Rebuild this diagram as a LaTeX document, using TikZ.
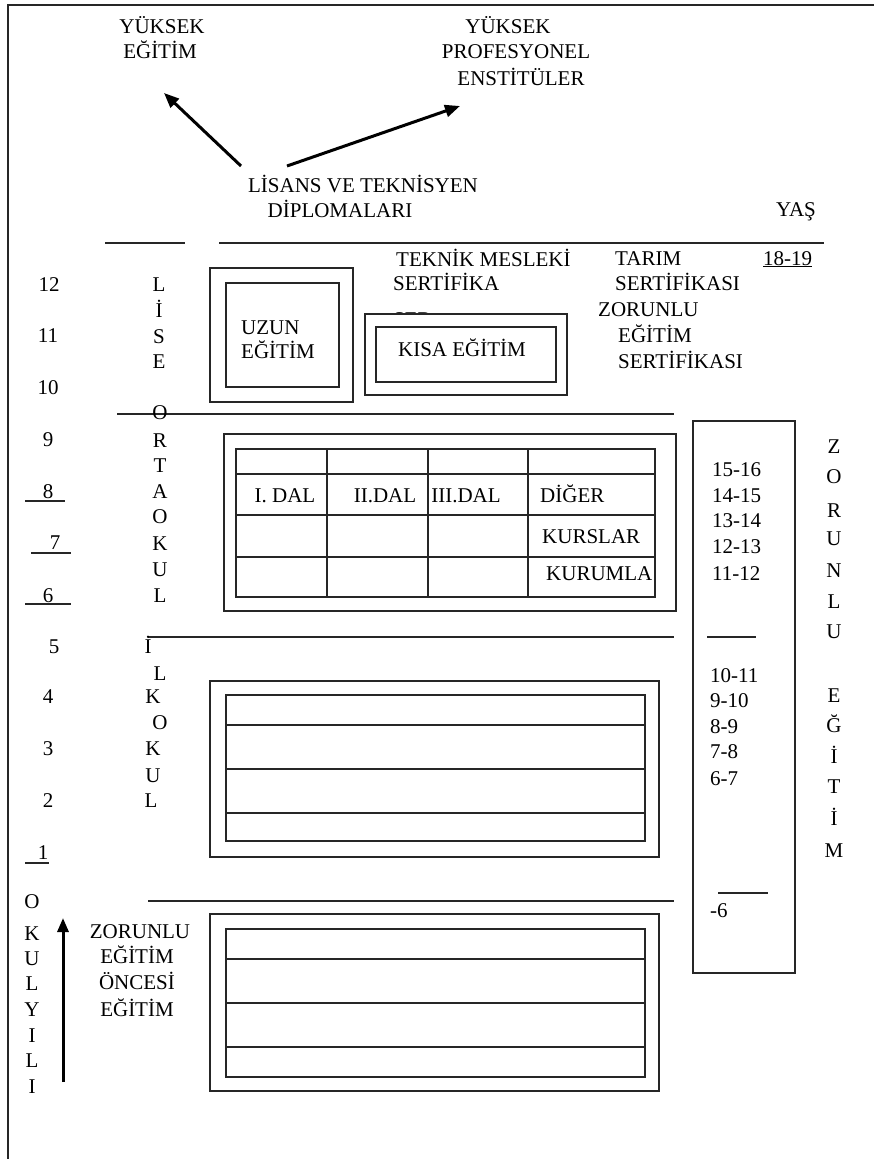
\documentclass[tikz,border=0pt]{standalone}
\usepackage{fontspec}
\setmainfont{Liberation Serif}
\usetikzlibrary{arrows.meta}
\begin{document}
\begin{tikzpicture}[x=1pt,y=-1pt,
  every node/.style={inner sep=0pt, font=\fontsize{21}{25}\selectfont, text=black},
  lab/.style={anchor=base},
  labl/.style={anchor=base west},
  ln/.style={line width=2pt, draw=black!85},
  bx/.style={line width=2pt, draw=black!85, fill=white},
  arr/.style={line width=3pt, draw=black, -{Triangle[length=15pt,width=12pt]}}]
\useasboundingbox (0,0) rectangle (874,1159);
\fill[white] (0,0) rectangle (874,1159);
% frame
\draw[line width=2.5pt, draw=black!85] (8,1159) -- (8,5) -- (874,5);

% top labels
\node[lab] (yuk1) at (162,33) {YÜKSEK};
\node[lab] (egt1) at (160,58) {EĞİTİM};
\node[lab] (yuk2) at (508,33) {YÜKSEK};
\node[lab] (prof) at (516,58) {PROFESYONEL};
\node[lab] (enst) at (521,85) {ENSTİTÜLER};
\node[lab] (lis) at (363,192) {LİSANS VE TEKNİSYEN};
\node[lab] (dip) at (340,217) {DİPLOMALARI};
\node[lab] (yas) at (796,216) {YAŞ};
\coordinate (a1s) at (241,166);
\coordinate (a1e) at (164,93);
\coordinate (a2s) at (287,166);
\coordinate (a2e) at (460,106);
\draw[arr] (a1s) -- (a1e);
\draw[arr] (a2s) -- (a2e);

% top rules
\draw[ln] (105,243) -- (185,243);
\draw[ln] (219,243) -- (824,243);

% lise row texts
\node[labl] (tek) at (396,266) {TEKNİK MESLEKİ};
\node[labl] (sertA) at (393,290) {SERTİFİKA};
\node[labl] (ser) at (393,326) {SER};
\node[labl] (tarim) at (615,265) {TARIM};
\node[labl] (sertB) at (615,290) {SERTİFİKASI};
\node[labl] (zor) at (598,316) {ZORUNLU};
\node[labl] (egtZ) at (618,342) {EĞİTİM};
\node[labl] (sertC) at (618,368) {SERTİFİKASI};
\node[labl] (age1819) at (763,265) {\underline{18-19}};

% uzun / kisa boxes
\draw[bx] (210,268) rectangle (353,402);
\draw[ln] (226,283) rectangle (339,387);
\node[labl] (uzun) at (241,334) {UZUN};
\node[labl] (uzeg) at (241,358) {EĞİTİM};
\draw[bx] (365,314) rectangle (567,395);
\draw[ln] (376,327) rectangle (556,382);
\node[lab] (kisa) at (462,356) {KISA EĞİTİM};

% class numbers
\node[lab] (n12) at (49,291) {12};
\node[lab] (n11) at (48,342) {11};
\node[lab] (n10) at (48,394) {10};
\node[lab] (n9) at (48,446) {9};
\node[lab] (n8) at (48,498) {8};
\node[lab] (n7) at (55,549) {7};
\node[lab] (n6) at (48,602) {6};
\node[lab] (n5) at (54,653) {5};
\node[lab] (n4) at (48,703) {4};
\node[lab] (n3) at (48,755) {3};
\node[lab] (n2) at (48,807) {2};
\node[lab] (n1) at (43,859) {1};
\draw[ln] (25,501) -- (65,501);
\draw[ln] (31,553) -- (71,553);
\draw[ln] (25,604) -- (71,604);
\draw[ln] (25,863) -- (49,863);

% LİSE
\foreach \l/\y [count=\i] in {L/291,İ/317,S/343,E/368}
  \node[lab] (lise\i) at (159,\y) {\l};

% ORTAOKUL
\draw[ln] (117,414) -- (674,414);
\foreach \l/\y [count=\i] in {O/419,R/447,T/472,A/498,O/523,K/550,U/576,L/602}
  \node[lab] (orta\i) at (160,\y) {\l};

% table
\draw[bx] (224,434) rectangle (676,611);
\draw[ln] (236,449) rectangle (655,597);
\foreach \y in {474,515,557} \draw[ln] (236,\y) -- (655,\y);
\foreach \x in {327,428,528} \draw[ln] (\x,449) -- (\x,597);
\node[lab] (dal1) at (285,502) {I. DAL};
\node[lab] (dal2) at (385,502) {II.DAL};
\node[lab] (dal3) at (466,502) {III.DAL};
\node[labl] (diger) at (540,502) {DİĞER};
\node[labl] (kurs) at (542,543) {KURSLAR};
\node[labl] (kurum) at (546,580) {KURUMLA};

% İLKOKUL
\draw[ln] (148,637) -- (674,637);
\node[lab] (ilk1) at (148,653) {İ};
\node[lab] (ilk2) at (160,680) {L};
\node[lab] (ilk3) at (153,703) {K};
\node[lab] (ilk4) at (160,729) {O};
\node[lab] (ilk5) at (153,755) {K};
\node[lab] (ilk6) at (153,782) {U};
\node[lab] (ilk7) at (151,807) {L};
\draw[bx] (210,681) rectangle (659,857);
\draw[ln] (226,695) rectangle (645,841);
\foreach \y in {725,769,813} \draw[ln] (226,\y) -- (645,\y);

% okul öncesi
\draw[ln] (148,901) -- (674,901);
\draw[bx] (210,914) rectangle (659,1091);
\draw[ln] (226,929) rectangle (645,1077);
\foreach \y in {959,1003,1047} \draw[ln] (226,\y) -- (645,\y);
\node[lab] (zoe1) at (140,938) {ZORUNLU};
\node[lab] (zoe2) at (137,963) {EĞİTİM};
\node[lab] (zoe3) at (137,989) {ÖNCESİ};
\node[lab] (zoe4) at (137,1016) {EĞİTİM};
\foreach \l/\y [count=\i] in {O/908,K/940,U/965,L/990,Y/1016,I/1042,L/1067,I/1093}
  \node[lab] (oky\i) at (32,\y) {\l};
\coordinate (ys) at (63,1082);
\coordinate (ye) at (63,918);
\draw[line width=3pt, -{Triangle[length=14pt,width=11pt]}] (ys) -- (ye);

% zorunlu box
\draw[ln] (693,421) rectangle (795,973);
\foreach \t/\y [count=\i] in {15-16/476,14-15/502,13-14/527,12-13/553,11-12/580}
  \node[labl] (ageA\i) at (712,\y) {\t};
\draw[ln] (707,637) -- (756,637);
\foreach \t/\y [count=\i] in {10-11/682,9-10/707,8-9/733,7-8/758,6-7/785}
  \node[labl] (ageB\i) at (710,\y) {\t};
\draw[ln] (718,893) -- (768,893);
\node[labl] (age6) at (710,917) {-6};

% ZORUNLU EĞİTİM vertical
\foreach \l/\y [count=\i] in {Z/453,O/483,R/517,U/545,N/577,L/608,U/638,E/702,Ğ/732,İ/763,T/793,İ/825,M/857}
  \node[lab] (zev\i) at (834,\y) {\l};
\end{tikzpicture}
\end{document}
